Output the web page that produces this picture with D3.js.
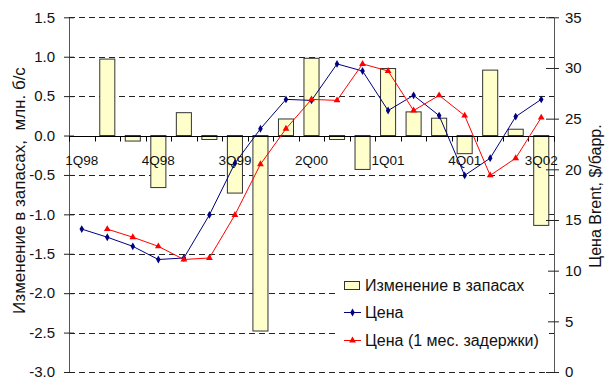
<!DOCTYPE html>
<html>
<head>
<meta charset="utf-8">
<script src="https://cdn.jsdelivr.net/npm/d3@7"></script>
<style>
  html, body { margin: 0; padding: 0; background: #fff; }
  svg { display: block; font-family: "Liberation Sans", Arial, sans-serif; }
  text { white-space: pre; }
</style>
</head>
<body>
<svg id="chart" width="607" height="382"></svg>
<script>
// Quarterly categories
const quarters = ["1Q98","2Q98","3Q98","4Q98","1Q99","2Q99","3Q99","4Q99",
                  "1Q00","2Q00","3Q00","4Q00","1Q01","2Q01","3Q01","4Q01",
                  "1Q02","2Q02","3Q02"];

// Change in stocks, mb/d (left axis)
const stockChange = [null, 0.97, -0.07, -0.66, 0.29, -0.05, -0.73, -2.48,
                     0.21, 0.98, -0.05, -0.43, 0.85, 0.30, 0.22, -0.23,
                     0.83, 0.08, -1.14];

// Brent price, $/bbl (right axis)
const price = [14.1, 13.3, 12.4, 11.1, 11.25, 15.5, 20.6, 24.0,
               26.9, 26.8, 30.4, 29.7, 25.8, 27.3, 25.3, 19.4,
               21.1, 25.2, 26.9];

// Brent price with a lag
const priceLag = [null, 14.1, 13.3, 12.4, 11.1, 11.25, 15.5, 20.5,
                  24.0, 26.9, 26.8, 30.4, 29.7, 25.8, 27.3, 25.3,
                  19.4, 21.1, 25.1];

const leftTicks = [-3.0, -2.5, -2.0, -1.5, -1.0, -0.5, 0.0, 0.5, 1.0, 1.5];
const rightTicks = [0, 5, 10, 15, 20, 25, 30, 35];

const legendLabels = ["Изменение в запасах", "Цена", "Цена (1 мес. задержки)"];
const leftTitle = "Изменение в запасах,  млн. б/с";
const rightTitle = "Цена Brent, $/барр.";

const svg = d3.select("#chart");
const plot = { left: 69, right: 554, top: 17.3, bottom: 372 };
const TICK_FONT = 15;
const CAT_FONT = 13.5;
const LEGEND_FONT = 16;

const x = d3.scaleBand()
  .domain(quarters)
  .range([plot.left, plot.right])
  .paddingInner(0.41)
  .paddingOuter(0.205);

const yL = d3.scaleLinear().domain([-3, 1.5]).range([plot.bottom, plot.top]);
const yR = d3.scaleLinear().domain([0, 35]).range([plot.bottom, plot.top]);

// Dashed horizontal grid on the left scale
svg.append("g")
  .selectAll("line")
  .data(leftTicks)
  .join("line")
  .attr("x1", plot.left)
  .attr("x2", plot.right)
  .attr("y1", d => Math.round(yL(d)) + 0.5)
  .attr("y2", d => Math.round(yL(d)) + 0.5)
  .attr("stroke", "#222")
  .attr("stroke-width", 1)
  .attr("stroke-dasharray", "6,4");

// Bars
svg.append("g")
  .selectAll("rect")
  .data(quarters.map((q, i) => ({ q, v: stockChange[i] })).filter(d => d.v !== null))
  .join("rect")
  .attr("x", d => x(d.q))
  .attr("width", x.bandwidth())
  .attr("y", d => yL(Math.max(0, d.v)))
  .attr("height", d => Math.abs(yL(d.v) - yL(0)))
  .attr("fill", "#FFFFCC")
  .attr("stroke", "#333")
  .attr("stroke-width", 1);

// Left axis
const leftAxis = d3.axisLeft(yL)
  .tickValues(leftTicks)
  .tickSizeInner(5)
  .tickSizeOuter(0)
  .tickPadding(9);
const gL = svg.append("g")
  .attr("transform", `translate(${plot.left},0)`)
  .call(leftAxis);
gL.select(".domain").attr("stroke", "#555");
gL.selectAll(".tick line").attr("x2", -5).attr("x1", 5).attr("stroke", "#222");
gL.selectAll(".tick text")
  .attr("font-size", TICK_FONT)
  .attr("font-family", "Liberation Sans, Arial, sans-serif")
  .attr("fill", "#111")
  .text(d => d3.format(".1f")(d).replace("−", "-"));

// Right axis
const rightAxis = d3.axisRight(yR)
  .tickValues(rightTicks)
  .tickSizeInner(5)
  .tickSizeOuter(0)
  .tickPadding(6);
const gR = svg.append("g")
  .attr("transform", `translate(${plot.right},0)`)
  .call(rightAxis);
gR.select(".domain").attr("stroke", "#555");
gR.selectAll(".tick line").attr("x1", -8).attr("x2", 5).attr("stroke", "#222");
gR.selectAll(".tick text")
  .attr("font-size", TICK_FONT)
  .attr("font-family", "Liberation Sans, Arial, sans-serif")
  .attr("fill", "#111");

// Category axis along zero
const y0 = Math.round(yL(0)) + 0.5;
svg.append("line")
  .attr("x1", plot.left).attr("x2", plot.right)
  .attr("y1", y0).attr("y2", y0)
  .attr("stroke", "#000");
const edges = d3.range(quarters.length + 1).map(i => plot.left + i * x.step());
svg.append("g")
  .selectAll("line")
  .data(edges)
  .join("line")
  .attr("x1", d => Math.round(d) + 0.5)
  .attr("x2", d => Math.round(d) + 0.5)
  .attr("y1", y0)
  .attr("y2", y0 + 5)
  .attr("stroke", "#000");
svg.append("g")
  .selectAll("text")
  .data(quarters.filter((q, i) => i % 3 === 0))
  .join("text")
  .attr("x", d => x(d) + x.bandwidth() / 2)
  .attr("y", 165)
  .attr("text-anchor", "middle")
  .attr("font-size", CAT_FONT)
  .attr("fill", "#111")
  .text(d => d);

// Price lines
const lineGen = d3.line()
  .defined(d => d.v !== null)
  .x(d => x(d.q) + x.bandwidth() / 2)
  .y(d => yR(d.v));

const priceData = quarters.map((q, i) => ({ q, v: price[i] }));
const lagData = quarters.map((q, i) => ({ q, v: priceLag[i] })).filter(d => d.v !== null);

svg.append("path")
  .datum(priceData)
  .attr("d", lineGen)
  .attr("fill", "none")
  .attr("stroke", "#000080")
  .attr("stroke-width", 1);
svg.append("path")
  .datum(lagData)
  .attr("d", lineGen)
  .attr("fill", "none")
  .attr("stroke", "#FF0000")
  .attr("stroke-width", 1);

const diamond = d3.symbol().type(d3.symbolDiamond).size(18);
const triangle = d3.symbol().type(d3.symbolTriangle).size(20);

svg.append("g")
  .selectAll("path")
  .data(priceData)
  .join("path")
  .attr("transform", d => `translate(${x(d.q) + x.bandwidth() / 2},${yR(d.v)})`)
  .attr("d", diamond)
  .attr("fill", "#000080");
svg.append("g")
  .selectAll("path")
  .data(lagData)
  .join("path")
  .attr("transform", d => `translate(${x(d.q) + x.bandwidth() / 2},${yR(d.v)})`)
  .attr("d", triangle)
  .attr("fill", "#FF0000");

// Axis titles
svg.append("text")
  .attr("transform", `translate(25,190.5) rotate(-90)`)
  .attr("text-anchor", "middle")
  .attr("font-size", 17)
  .attr("fill", "#111")
  .text(leftTitle);
svg.append("text")
  .attr("transform", `translate(600.5,196) rotate(-90)`)
  .attr("text-anchor", "middle")
  .attr("font-size", 16)
  .attr("fill", "#111")
  .text(rightTitle);

// Legend
const lg = svg.append("g");
lg.append("rect")
  .attr("x", 338).attr("y", 262)
  .attr("width", 210).attr("height", 93)
  .attr("fill", "#fff");
const rowY = [285.5, 312.5, 340.5];
lg.append("rect")
  .attr("x", 344.5).attr("y", rowY[0] - 4)
  .attr("width", 15).attr("height", 8)
  .attr("fill", "#FFFFCC")
  .attr("stroke", "#333");
lg.append("line")
  .attr("x1", 344).attr("x2", 361)
  .attr("y1", rowY[1]).attr("y2", rowY[1])
  .attr("stroke", "#000080");
lg.append("path")
  .attr("transform", `translate(352.5,${rowY[1]})`)
  .attr("d", diamond)
  .attr("fill", "#000080");
lg.append("line")
  .attr("x1", 344).attr("x2", 361)
  .attr("y1", rowY[2]).attr("y2", rowY[2])
  .attr("stroke", "#FF0000");
lg.append("path")
  .attr("transform", `translate(352.5,${rowY[2]})`)
  .attr("d", triangle)
  .attr("fill", "#FF0000");
lg.selectAll("text.lbl")
  .data(legendLabels)
  .join("text")
  .attr("class", "lbl")
  .attr("x", 365)
  .attr("y", (d, i) => rowY[i] + 5.5)
  .attr("font-size", LEGEND_FONT)
  .attr("fill", "#111")
  .text(d => d);
</script>
</body>
</html>
